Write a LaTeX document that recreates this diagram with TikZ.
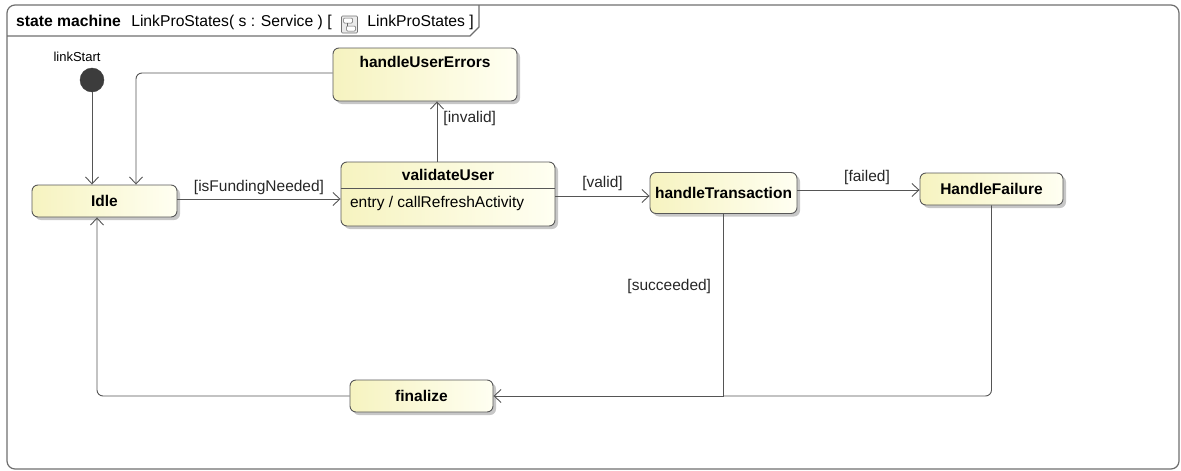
\documentclass[tikz,border=0pt]{standalone}
\usepackage{fontspec}
\setmainfont{Liberation Sans}
\usetikzlibrary{arrows.meta,shadows,calc}

\definecolor{fillL}{RGB}{246,243,192}
\definecolor{fillR}{RGB}{255,255,242}
\definecolor{boxgray}{RGB}{88,88,88}
\definecolor{linegray}{RGB}{85,85,85}
\definecolor{framegray}{RGB}{110,110,110}
\definecolor{initfill}{RGB}{60,60,60}

\begin{document}
\begin{tikzpicture}[x=1pt,y=-1pt,
  statebox/.style={draw=boxgray, line width=0.9pt, rounded corners=6pt,
    left color=fillL, right color=fillR,
    drop shadow={shadow xshift=3pt, shadow yshift=-3pt, fill=black!40, opacity=0.55},
    font=\fontsize{15.5}{17}\selectfont\bfseries, inner sep=0pt},
  boldtext/.style={font=\fontsize{15.5}{17}\selectfont\bfseries},
  initstate/.style={circle, fill=initfill, draw=initfill, minimum size=24pt, inner sep=0pt},
  trans/.style={draw=linegray, line width=0.9pt, -{Straight Barb[length=7pt,width=13pt]}},
  plain/.style={draw=linegray, line width=0.9pt},
  guard/.style={font=\fontsize{15.5}{17}\selectfont, text=black!85, inner sep=1pt},
  titletext/.style={font=\fontsize{15.7}{18}\selectfont, inner sep=0pt}
]
\useasboundingbox (0,0) rectangle (1181,471);

% diagram frame with its name tab
\draw[framegray, line width=1.2pt, rounded corners=8pt] (7,5) rectangle (1179,469);
\draw[framegray, line width=1.2pt] (7,36) -- (470,36) -- (479,27) -- (479,5);
\node[titletext, anchor=base west] (title) at (16,27)
  {\textbf{state machine}\hspace{6pt} LinkProStates( s : Service ) [};
\node[titletext, anchor=base east] (titleb) at (474,27) {LinkProStates ]};
% small state machine icon between the brackets
\coordinate (ic) at ($(title.base east)!0.5!(titleb.base west)$);
\begin{scope}[shift={(ic)}]
  \draw[black!55, fill=black!8, line width=0.6pt, rounded corners=1pt] (-8,-11) rectangle (8,6);
  \draw[black!60, fill=white, line width=0.5pt, rounded corners=1pt] (-6,-9) rectangle (3,-4);
  \draw[black!60, fill=white, line width=0.5pt, rounded corners=1pt] (-3,-1) rectangle (6,4);
  \draw[black!60, line width=0.5pt] (-2,-4) -- (-2,-1);
\end{scope}

% states
\node[initstate, label={[font=\fontsize{13}{15}\selectfont, xshift=-15pt, label distance=3pt]above:linkStart}] (start) at (92,80) {};
\node[statebox, minimum width=145pt, minimum height=32pt] (idle) at (104.5,201) {Idle};
\node[statebox, minimum width=184pt, minimum height=53pt,
  label={[anchor=north, yshift=-5pt, boldtext]north:handleUserErrors}] (hue) at (425,74.5) {};
\node[statebox, minimum width=214pt, minimum height=64pt,
  label={[anchor=north, yshift=-4pt, boldtext]north:validateUser},
  label={[anchor=south west, xshift=6pt, yshift=12pt, font=\fontsize{15.5}{17}\selectfont]south west:entry / callRefreshActivity}] (vu) at (448,194) {};
\draw[boxgray, line width=0.9pt] (vu.west |- 0,188) -- (vu.east |- 0,188);
\node[statebox, minimum width=147pt, minimum height=41pt] (ht) at (723.5,193) {handleTransaction};
\node[statebox, minimum width=143pt, minimum height=32pt] (hf) at (991.5,189) {HandleFailure};
\node[statebox, minimum width=143pt, minimum height=32pt] (fin) at (421.5,396) {finalize};

% transitions
\draw[trans] (start) -- (start |- idle.north);
\draw[trans, rounded corners=6pt] (hue.west |- 0,73) -| ([xshift=31.5pt]idle.north);
\draw[trans] (idle.east |- 0,199) -- node[guard, above, yshift=3pt] (g1) {[isFundingNeeded]} (vu.west |- 0,199);
\draw[trans] (vu.north -| 437,0) -- node[guard, anchor=west, xshift=5pt, pos=0.72] (g2) {[invalid]} (hue.south -| 437,0);
\draw[trans] (vu.east |- 0,196) -- node[guard, above, yshift=4pt, pos=0.5] (g3) {[valid]} (ht.west |- 0,196);
\draw[trans] (ht.east |- 0,190) -- node[guard, above, yshift=4pt, pos=0.57] (g4) {[failed]} (hf.west |- 0,190);
\draw[trans] (ht.south) |- node[guard, pos=0.2, anchor=east, xshift=-11pt] (g5) {[succeeded]} (fin.east);
\draw[plain, rounded corners=6pt] (hf.south) |- (ht.south |- fin.east);
\draw[trans, rounded corners=6pt] (fin.west) -| ([xshift=-7.5pt]idle.south);
\end{tikzpicture}
\end{document}
